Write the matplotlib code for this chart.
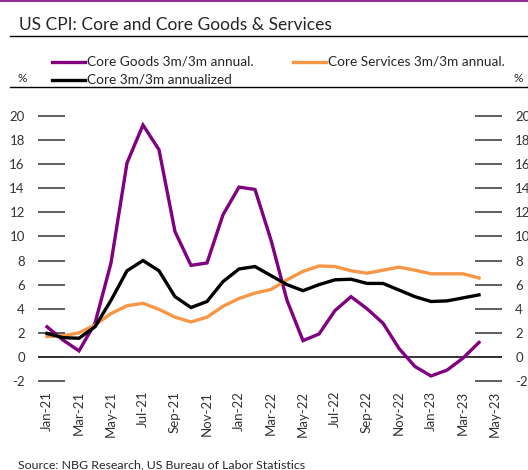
import matplotlib
matplotlib.use("Agg")
import matplotlib.pyplot as plt
from matplotlib.lines import Line2D
import numpy as np

plt.rcParams['font.family'] = ['Lato', 'DejaVu Sans']

months = ["Jan-21", "Feb-21", "Mar-21", "Apr-21", "May-21", "Jun-21", "Jul-21", "Aug-21",
          "Sep-21", "Oct-21", "Nov-21", "Dec-21", "Jan-22", "Feb-22", "Mar-22", "Apr-22",
          "May-22", "Jun-22", "Jul-22", "Aug-22", "Sep-22", "Oct-22", "Nov-22", "Dec-22",
          "Jan-23", "Feb-23", "Mar-23", "Apr-23"]
core_goods = [2.5, 1.4, 0.5, 2.8, 7.8, 16.1, 19.25, 17.2, 10.4, 7.6, 7.8, 11.8, 14.1, 13.9,
              9.7, 4.7, 1.35, 1.9, 3.85, 5.0, 4.0, 2.8, 0.7, -0.8, -1.58, -1.1, -0.1, 1.2]
core_services = [1.7, 1.75, 2.0, 2.65, 3.6, 4.25, 4.45, 3.95, 3.3, 2.9, 3.3, 4.2, 4.85, 5.3,
                 5.6, 6.4, 7.1, 7.55, 7.5, 7.15, 6.95, 7.2, 7.45, 7.2, 6.9, 6.9, 6.9, 6.55]
core = [1.95, 1.6, 1.55, 2.5, 4.7, 7.15, 8.0, 7.15, 5.0, 4.1, 4.6, 6.25, 7.3, 7.5, 6.75,
        6.0, 5.5, 6.0, 6.4, 6.45, 6.1, 6.1, 5.55, 5.0, 4.6, 4.65, 4.9, 5.15]
tick_labels = ["Jan-21", "Mar-21", "May-21", "Jul-21", "Sep-21", "Nov-21", "Jan-22", "Mar-22",
               "May-22", "Jul-22", "Sep-22", "Nov-22", "Jan-23", "Mar-23", "May-23"]
yticks = list(range(-2, 21, 2))

PURPLE = "#800080"
ORANGE = "#F79646"
BLACK = "#000000"
GRAY = "#333333"

W, H = 528, 470
fig = plt.figure(figsize=(W / 100, H / 100), dpi=100)

def fx(px):
    return px / W

def fy(py):
    return 1 - py / H

left, right, top, bottom = 38, 502, 116, 381
ax = fig.add_axes([fx(left), fy(bottom), fx(right) - fx(left), fy(top) - fy(bottom)])

x = np.arange(len(months))
ax.plot(x, core_goods, color=PURPLE, lw=2.4, solid_joinstyle='miter')
ax.plot(x, core_services, color=ORANGE, lw=2.4, solid_joinstyle='miter')
ax.plot(x, core, color=BLACK, lw=2.4, solid_joinstyle='miter')

ax.set_xlim(-9 / 16, (502 - 47) / 16)
ax.set_ylim(-2, 20)
ax.axhline(0, color=BLACK, lw=1.1, zorder=1)

for s in ax.spines.values():
    s.set_visible(False)

ax.set_yticks(yticks)
ax.set_yticklabels([str(v) for v in yticks])
ax.tick_params(axis='y', which='both', direction='in', length=19.4, width=1.1, color=GRAY,
               left=True, right=True, labelleft=True, labelright=True,
               labelsize=9.5, labelcolor=GRAY, pad=9.5)

tick_pos = [months.index(m) if m in months else 28 for m in tick_labels]
ax.set_xticks(tick_pos)
ax.set_xticklabels(tick_labels, rotation=90, fontsize=9.5, color=GRAY)
ax.tick_params(axis='x', length=0, pad=7)

# top purple border
fig.add_artist(Line2D([0, 1], [fy(1), fy(1)], color=PURPLE, lw=1.2, transform=fig.transFigure))
# title
fig.text(fx(19), fy(25), "US CPI: Core and Core Goods & Services", fontsize=12.5,
         color="#262626", va='center', ha='left')
fig.add_artist(Line2D([fx(10), 1], [fy(36), fy(36)], color=BLACK, lw=1.0, transform=fig.transFigure))
fig.add_artist(Line2D([fx(10), 1], [fy(87), fy(87)], color=BLACK, lw=1.0, transform=fig.transFigure))

# legend
legend_items = [
    (52, 62, PURPLE, "Core Goods 3m/3m annual."),
    (293, 62, ORANGE, "Core Services 3m/3m annual."),
    (52, 80, BLACK, "Core 3m/3m annualized"),
]
for lx, ly, col, lab in legend_items:
    fig.add_artist(Line2D([fx(lx), fx(lx + 33)], [fy(ly), fy(ly)], color=col, lw=2.4,
                          transform=fig.transFigure))
    fig.text(fx(lx + 35), fy(ly), lab, fontsize=9.8, color="#262626", va='center', ha='left')

fig.text(fx(18), fy(79), "%", fontsize=8.5, color="#262626", va='center', ha='left')
fig.text(fx(514), fy(79), "%", fontsize=8.5, color="#262626", va='center', ha='left')

fig.text(fx(18), fy(465), "Source: NBG Research, US Bureau of Labor Statistics", fontsize=8.9,
         color="#262626", va='center', ha='left')

fig.savefig("out.png", dpi=100)
